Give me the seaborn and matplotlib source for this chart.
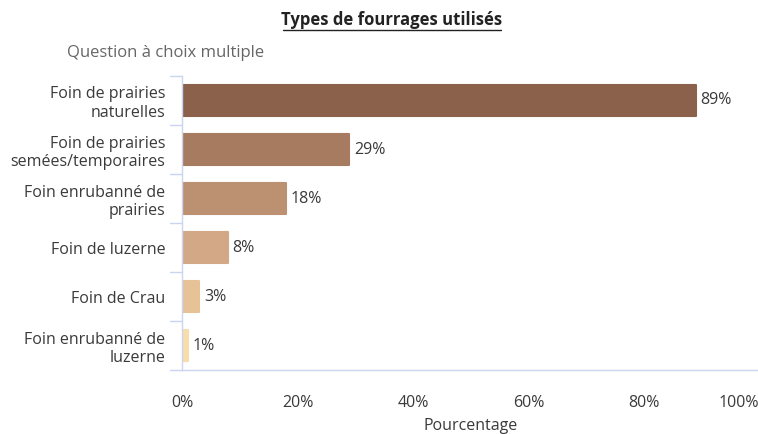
import numpy as np
import pandas as pd
import seaborn as sns
import matplotlib.pyplot as plt

categories = ["Foin de prairies\nnaturelles", "Foin de prairies\nsemées/temporaires",
              "Foin enrubanné de\nprairies", "Foin de luzerne", "Foin de Crau",
              "Foin enrubanné de\nluzerne"]
values = [89, 29, 18, 8, 3, 1]
colors = ["#8B614B", "#A67B5F", "#BB9172", "#D3A886", "#E6C297", "#F8DDAB"]
x_ticks = [0, 20, 40, 60, 80, 100]

df = pd.DataFrame({"type": categories, "pct": values})

sns.set_theme(style="white")
plt.rcParams['font.family'] = ['Open Sans', 'DejaVu Sans']
text_col = "#3A3A3A"
axis_col = "#CBD5F2"
fs = 11.5

fig = plt.figure(figsize=(7.58, 4.34), dpi=100)
ax = fig.add_axes([0.240, 0.147, 0.762, 0.678])

sns.barplot(data=df, y="type", x="pct", hue="type", palette=colors, legend=False,
            width=0.62, saturation=1, ax=ax, orient="h")
for p, c in zip(ax.patches, colors):
    p.set_edgecolor(c)
    p.set_linewidth(1.5)
    p.set_joinstyle("round")

for i, v in enumerate(values):
    ax.text(v + 0.8, i, f"{v}%", va="center", ha="left", fontsize=fs, color=text_col)

ax.set_xlim(0, 100)
ax.set_ylim(len(categories) - 0.5, -0.5)
ax.set_xticks(x_ticks)
ax.set_xticklabels([f"{t}%" for t in x_ticks], fontsize=fs, color=text_col)
ax.get_xticklabels()[-1].set_horizontalalignment("right")
ax.set_yticks(np.arange(len(categories)))
ax.set_yticklabels(categories, fontsize=fs, color=text_col, linespacing=1.2)
ax.tick_params(axis="y", length=0, pad=12)
ax.tick_params(axis="x", length=12, color=axis_col, width=1, pad=6)
# boundary ticks between categories
for b in np.arange(-0.5, len(categories), 1.0):
    ax.plot([-0.021, 0], [b, b], transform=ax.get_yaxis_transform(), color=axis_col,
            lw=1, clip_on=False)

for s in ["top", "right"]:
    ax.spines[s].set_visible(False)
for s in ["left", "bottom"]:
    ax.spines[s].set_color(axis_col)
    ax.spines[s].set_linewidth(1)

ax.set_ylabel("")
ax.set_xlabel("Pourcentage", fontsize=fs, color=text_col, labelpad=5)

fig.text(0.517, 0.953, "Types de fourrages utilisés", ha="center", va="center",
         fontsize=12, fontweight="bold", color="#222222")
fig.add_artist(plt.Line2D([0.374, 0.661], [0.932, 0.932], color="#222222", lw=1))
fig.text(0.088, 0.878, "Question à choix multiple", ha="left", va="center",
         fontsize=12, color="#666666")

fig.savefig("out.png", dpi=100)
